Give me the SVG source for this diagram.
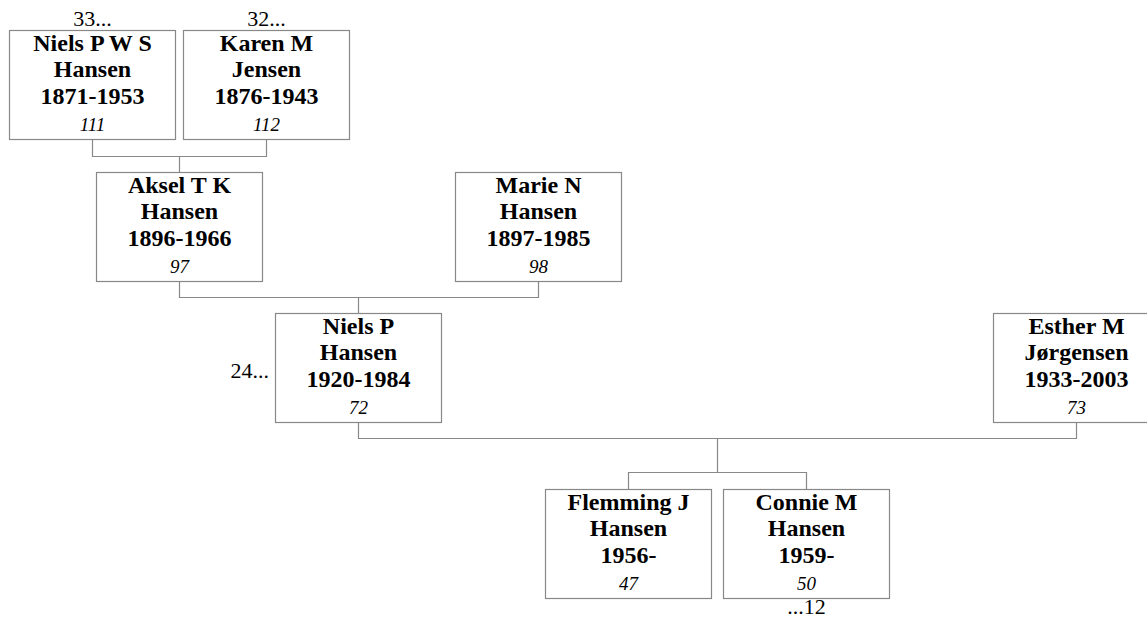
<svg xmlns="http://www.w3.org/2000/svg" width="1147" height="619" viewBox="0 0 1147 619">
<style>
.box{fill:#fff;stroke:#888;stroke-width:1.2}
.con{fill:none;stroke:#888;stroke-width:1.2}
.n{font-family:"Liberation Serif",serif;font-weight:bold;font-size:24px;text-anchor:middle;fill:#000}
.i{font-family:"Liberation Serif",serif;font-style:italic;font-size:19px;text-anchor:middle;fill:#000}
.t{font-family:"Liberation Serif",serif;font-size:22px;fill:#000}
</style>
<rect width="1147" height="619" fill="#fff"/>
<g id="connectors">
<path class="con" d="M92.5 139.5V156.5H266.5V139.5M179.5 156.5V172.5"/>
<path class="con" d="M179.5 281.5V297.5H538.5V281.5M358.5 297.5V313.5"/>
<path class="con" d="M358.5 422.5V438.5H1076.5V422.5M717.5 438.5V472.5"/>
<path class="con" d="M628.5 489.5V472.5H806.5V489.5"/>
</g>
<g id="n111">
<rect class="box" x="9.5" y="30.5" width="166" height="109"/>
<text class="n" x="92.5" y="51">Niels P W S</text>
<text class="n" x="92.5" y="77">Hansen</text>
<text class="n" x="92.5" y="103.5">1871-1953</text>
<text class="i" x="92.5" y="130.5">111</text>
<text class="t" x="92.5" y="26" text-anchor="middle">33...</text>
</g>
<g id="n112">
<rect class="box" x="183.5" y="30.5" width="166" height="109"/>
<text class="n" x="266.5" y="51">Karen M</text>
<text class="n" x="266.5" y="77">Jensen</text>
<text class="n" x="266.5" y="103.5">1876-1943</text>
<text class="i" x="266.5" y="130.5">112</text>
<text class="t" x="266.5" y="26" text-anchor="middle">32...</text>
</g>
<g id="n97">
<rect class="box" x="96.5" y="172.5" width="166" height="109"/>
<text class="n" x="179.5" y="193">Aksel T K</text>
<text class="n" x="179.5" y="219">Hansen</text>
<text class="n" x="179.5" y="245.5">1896-1966</text>
<text class="i" x="179.5" y="272.5">97</text>
</g>
<g id="n98">
<rect class="box" x="455.5" y="172.5" width="166" height="109"/>
<text class="n" x="538.5" y="193">Marie N</text>
<text class="n" x="538.5" y="219">Hansen</text>
<text class="n" x="538.5" y="245.5">1897-1985</text>
<text class="i" x="538.5" y="272.5">98</text>
</g>
<g id="n72">
<rect class="box" x="275.5" y="313.5" width="166" height="109"/>
<text class="n" x="358.5" y="334">Niels P</text>
<text class="n" x="358.5" y="360">Hansen</text>
<text class="n" x="358.5" y="386.5">1920-1984</text>
<text class="i" x="358.5" y="413.5">72</text>
<text class="t" x="269" y="378" text-anchor="end">24...</text>
</g>
<g id="n73">
<rect class="box" x="993.5" y="313.5" width="166" height="109"/>
<text class="n" x="1076.5" y="334">Esther M</text>
<text class="n" x="1076.5" y="360">Jørgensen</text>
<text class="n" x="1076.5" y="386.5">1933-2003</text>
<text class="i" x="1076.5" y="413.5">73</text>
</g>
<g id="n47">
<rect class="box" x="545.5" y="489.5" width="166" height="109"/>
<text class="n" x="628.5" y="510">Flemming J</text>
<text class="n" x="628.5" y="536">Hansen</text>
<text class="n" x="628.5" y="562.5">1956-</text>
<text class="i" x="628.5" y="589.5">47</text>
</g>
<g id="n50">
<rect class="box" x="723.5" y="489.5" width="166" height="109"/>
<text class="n" x="806.5" y="510">Connie M</text>
<text class="n" x="806.5" y="536">Hansen</text>
<text class="n" x="806.5" y="562.5">1959-</text>
<text class="i" x="806.5" y="589.5">50</text>
<text class="t" x="806.5" y="614" text-anchor="middle">...12</text>
</g>
</svg>
